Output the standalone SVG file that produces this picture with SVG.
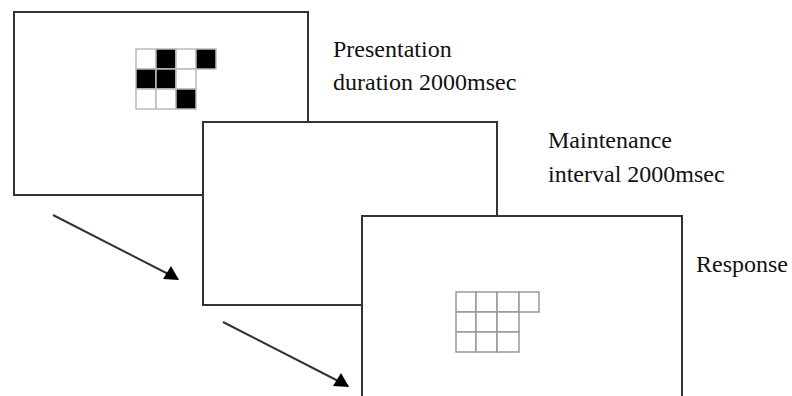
<svg xmlns="http://www.w3.org/2000/svg" width="792" height="396" viewBox="0 0 792 396">
<style>
.frame{fill:#fff;stroke:#333;stroke-width:2}
.lbl{font-family:"Liberation Serif","Times New Roman",serif;font-size:24px;fill:#111}
.c1{stroke:#bbb;stroke-width:1.5}
.w{fill:#fff}
.b{fill:#000}
.g2{fill:#fff;stroke:#999;stroke-width:1.5}
.arr{stroke:#333;stroke-width:2;fill:none;marker-end:url(#ah)}
</style>
<defs>
<marker id="ah" viewBox="-20 -20 30 30" refX="0" refY="0" markerWidth="30" markerHeight="30" markerUnits="userSpaceOnUse" orient="0" overflow="visible">
<path d="M-15,0 L1,1 L-7,-13 Z" fill="#000"/>
</marker>
</defs>
<rect width="792" height="396" fill="#fff"/>
<g id="frame1">
<rect class="frame" x="14" y="12" width="294" height="183"/>
<g class="c1">
<rect class="w" x="136" y="49" width="20" height="20"/>
<rect class="b" x="156" y="49" width="20" height="20"/>
<rect class="w" x="176" y="49" width="20" height="20"/>
<rect class="b" x="196" y="49" width="20" height="20"/>
<rect class="b" x="136" y="69" width="20" height="20"/>
<rect class="b" x="156" y="69" width="20" height="20"/>
<rect class="w" x="176" y="69" width="20" height="20"/>
<rect class="w" x="136" y="89" width="20" height="20"/>
<rect class="w" x="156" y="89" width="20" height="20"/>
<rect class="b" x="176" y="89" width="20" height="20"/>
</g>
</g>
<g id="label1">
<text class="lbl" x="333" y="57">Presentation</text>
<text class="lbl" x="333" y="90">duration 2000msec</text>
</g>
<g id="frame2">
<rect class="frame" x="203" y="122" width="294" height="183"/>
</g>
<g id="label2">
<text class="lbl" x="548" y="148">Maintenance</text>
<text class="lbl" x="548" y="182">interval 2000msec</text>
</g>
<g id="frame3">
<rect class="frame" x="362" y="216" width="320" height="200"/>
<rect class="g2" x="456" y="292" width="20" height="20"/>
<rect class="g2" x="476" y="292" width="21" height="20"/>
<rect class="g2" x="497" y="292" width="22" height="20"/>
<rect class="g2" x="519" y="292" width="20" height="20"/>
<rect class="g2" x="456" y="312" width="20" height="20"/>
<rect class="g2" x="476" y="312" width="21" height="20"/>
<rect class="g2" x="497" y="312" width="22" height="20"/>
<rect class="g2" x="456" y="332" width="20" height="20"/>
<rect class="g2" x="476" y="332" width="21" height="20"/>
<rect class="g2" x="497" y="332" width="22" height="20"/>
</g>
<g id="label3">
<text class="lbl" x="696" y="272">Response</text>
</g>
<g id="connectors">
<line class="arr" x1="53" y1="215" x2="178" y2="279"/>
<line class="arr" x1="223" y1="322" x2="348" y2="386"/>
</g>
</svg>
